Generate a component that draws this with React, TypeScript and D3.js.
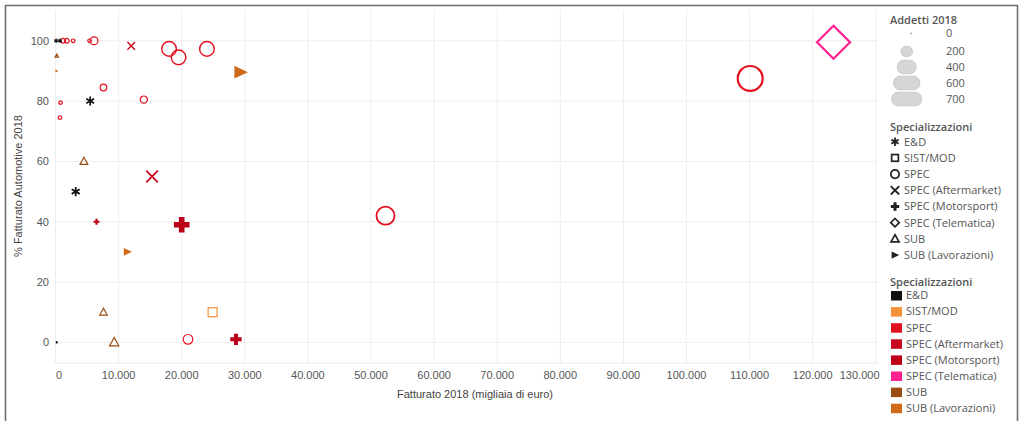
import React from "react";
import * as d3 from "d3";

// ---------- DATA ----------
const categories = [
  "E&D",
  "SIST/MOD",
  "SPEC",
  "SPEC (Aftermarket)",
  "SPEC (Motorsport)",
  "SPEC (Telematica)",
  "SUB",
  "SUB (Lavorazioni)",
];
const categoryColors = [
  "#111111",
  "#f5913a",
  "#e3101f",
  "#c8081d",
  "#bb0219",
  "#ff1f8e",
  "#9a4c12",
  "#cf6a1a",
];
const categoryShapes = ["asterisk", "square", "circle", "x", "plus", "diamond", "triangle", "play"];

// Fatturato 2018 (migliaia di euro)
const fatturato = [
  100, 700, 1200, 1800, 2800, 5400, 6100, 12000, 18000, 19500, 24000, 29300, 200, 200,
  7600, 14000, 800, 700, 5500, 4500, 15300, 3200, 6500, 20000, 11400, 7600, 9300,
  24900, 21000, 28600, 200, 52300, 110100, 123300,
];
// % Fatturato Automotive 2018
const percAutomotive = [
  100, 100, 100, 100, 100, 100, 100, 98.3, 97.3, 94.5, 97.3, 89.6, 95, 90,
  84.5, 80.5, 79.5, 74.5, 80, 60, 55, 50, 40, 39, 30, 10, 0,
  10, 1, 1, 0, 42, 87.5, 99.5,
];
// Addetti 2018
const addetti = [
  12, 12, 14, 14, 8, 8, 40, 37, 137, 137, 137, 145, 8, 8,
  28, 33, 8, 8, 52, 44, 87, 55, 23, 157, 52, 41, 60,
  81, 60, 83, 3, 210, 400, 700,
];
// Specializzazione (index into categories)
const specializzazione = [
  0, 0, 2, 2, 2, 2, 2, 3, 2, 2, 2, 7, 6, 7,
  2, 2, 2, 2, 0, 6, 3, 0, 4, 4, 7, 6, 6,
  1, 2, 4, 0, 2, 2, 5,
];

const xTicks = [0, 10000, 20000, 30000, 40000, 50000, 60000, 70000, 80000, 90000, 100000, 110000, 120000, 130000];
const yTicks = [0, 20, 40, 60, 80, 100];
const sizeLegendValues = [0, 200, 400, 600, 700];

// ---------- LAYOUT ----------
const W = 1020;
const H = 421;
const plot = { left: 55.5, right: 878, top: 10, bottom: 363 };

const x = d3.scaleLinear().domain([0, 130350]).range([plot.left, plot.right]);
const y = d3.scaleLinear().domain([-6.85, 110.2]).range([plot.bottom, plot.top]);
const size = d3.scaleSqrt().domain([0, 700]).range([0, 16.5]);

const fmt = (v: number) => d3.format(",")(v).replace(/,/g, ".");

function Mark({ shape, h, color, legend }: { shape: string; h: number; color: string; legend?: boolean }) {
  const sw = legend ? 1.7 : Math.max(1.2, Math.min(2.2, h * 0.2));
  switch (shape) {
    case "circle":
      return <circle r={h} fill="none" stroke={color} strokeWidth={sw} />;
    case "square":
      return <rect x={-h * 0.8} y={-h * 0.8} width={h * 1.6} height={h * 1.6} fill="none" stroke={color} strokeWidth={sw} />;
    case "diamond":
      return <path d={`M0,${-h}L${h},0L0,${h}L${-h},0Z`} fill="none" stroke={color} strokeWidth={sw} />;
    case "x":
      return (
        <path
          d={`M${-h},${-h}L${h},${h}M${-h},${h}L${h},${-h}`}
          fill="none"
          stroke={color}
          strokeWidth={legend ? 1.8 : Math.max(1.4, h * 0.3)}
        />
      );
    case "plus": {
      const t = h * 0.36;
      return (
        <path
          d={`M${-t},${-h}H${t}V${-t}H${h}V${t}H${t}V${h}H${-t}V${t}H${-h}V${-t}H${-t}Z`}
          fill={color}
        />
      );
    }
    case "triangle":
      return (
        <path
          d={`M0,${-h}L${h * 0.95},${h * 0.72}L${-h * 0.95},${h * 0.72}Z`}
          fill="none"
          stroke={color}
          strokeWidth={sw}
          strokeLinejoin="miter"
        />
      );
    case "play":
      return <path d={`M${-h * 0.8},${-h * 0.85}L${h},0L${-h * 0.8},${h * 0.85}Z`} fill={color} />;
    case "asterisk": {
      const a = h;
      const c = Math.cos(Math.PI / 6) * a;
      const s = Math.sin(Math.PI / 6) * a;
      return (
        <path
          d={`M0,${-a}L0,${a}M${-c},${-s}L${c},${s}M${-c},${s}L${c},${-s}`}
          fill="none"
          stroke={color}
          strokeWidth={legend ? 1.8 : Math.max(1.2, h * 0.38)}
        />
      );
    }
  }
  return null;
}

export default function App() {
  const points = fatturato.map((f, i) => ({
    f,
    p: percAutomotive[i],
    a: addetti[i],
    c: specializzazione[i],
  }));
  const order = d3.range(points.length).sort((i, j) => points[j].a - points[i].a);

  const tickFont = "'Liberation Sans', Arial, sans-serif";
  const legendFont = "'Open Sans', 'Noto Sans', sans-serif";
  const textColor = "#555";

  return (
    <svg width={W} height={H} style={{ position: "absolute", left: 0, top: 0, background: "#fff" }}>
      {/* frame */}
      <path d={`M5.5,${H + 2}V5.5H1017.5V${H + 2}`} fill="none" stroke="#6e6e6e" strokeWidth={1.6} />

      {/* gridlines */}
      {xTicks.map((t) => (
        <line key={"gx" + t} x1={x(t)} x2={x(t)} y1={plot.top} y2={plot.bottom} stroke="#eeeeee" strokeWidth={1} />
      ))}
      {yTicks.map((t) => (
        <line
          key={"gy" + t}
          x1={plot.left}
          x2={plot.right}
          y1={y(t)}
          y2={y(t)}
          stroke={t === 0 ? "#e2e2e2" : "#eeeeee"}
          strokeWidth={1}
          strokeDasharray={t === 0 ? "2,2" : undefined}
        />
      ))}
      <line x1={plot.left} x2={plot.right} y1={plot.bottom} y2={plot.bottom} stroke="#eaeaea" strokeWidth={1} />

      {/* y tick labels */}
      {yTicks.map((t) => (
        <text
          key={"ty" + t}
          x={49}
          y={y(t)}
          dy="0.35em"
          textAnchor="end"
          fontFamily={tickFont}
          fontSize={11}
          fill={textColor}
        >
          {t}
        </text>
      ))}
      {/* x tick labels */}
      {xTicks.map((t, i) => {
        const last = i === xTicks.length - 1;
        return (
          <text
            key={"tx" + t}
            x={last ? 879.5 : t === 0 ? x(t) + 3.5 : x(t)}
            y={379}
            textAnchor={last ? "end" : "middle"}
            fontFamily={tickFont}
            fontSize={11}
            fill={textColor}
          >
            {fmt(t)}
          </text>
        );
      })}
      {/* axis titles */}
      <text x={475} y={398} textAnchor="middle" fontFamily={tickFont} fontSize={11} fill="#444">
        Fatturato 2018 (migliaia di euro)
      </text>
      <text
        transform={`translate(22,186) rotate(-90)`}
        textAnchor="middle"
        fontFamily={tickFont}
        fontSize={11}
        fill="#444"
      >
        % Fatturato Automotive 2018
      </text>

      {/* marks */}
      <g>
        {order.map((i) => {
          const d = points[i];
          return (
            <g key={"m" + i} transform={`translate(${x(d.f)},${y(d.p)})`}>
              <Mark shape={categoryShapes[d.c]} h={Math.max(1.1, size(d.a))} color={categoryColors[d.c]} />
            </g>
          );
        })}
      </g>

      {/* size legend */}
      <text x={890} y={24} fontFamily={legendFont} fontSize={11} fontWeight={600} fill={textColor}>
        Addetti 2018
      </text>
      {sizeLegendValues.map((v, i) => {
        const cy = [33.5, 51.5, 67, 83, 99][i];
        const w = v === 0 ? 2 : 4 + v * 0.037;
        const hh = v === 0 ? 2 : Math.min(w * 0.87, 13.5);
        return (
          <g key={"sl" + v}>
            <rect
              x={v === 0 ? 910 : 906.7 - w / 2}
              y={cy - hh / 2}
              width={w}
              height={hh}
              rx={v === 0 ? 1 : hh / 2.2}
              fill={v === 0 ? "#aaa" : "#d6d6d6"}
              stroke={v === 0 ? "none" : "#c4c4c4"}
              strokeWidth={0.8}
            />
            <text x={946} y={cy} dy="0.35em" fontFamily={legendFont} fontSize={11} fill={textColor}>
              {v}
            </text>
          </g>
        );
      })}

      {/* shape legend */}
      <text x={890} y={130.5} fontFamily={legendFont} fontSize={11} fontWeight={600} fill={textColor}>
        Specializzazioni
      </text>
      {categories.map((c, i) => {
        const cy = 141.7 + i * 16.2;
        return (
          <g key={"sh" + c}>
            <g transform={`translate(895,${cy})`}>
              <Mark shape={categoryShapes[i]} h={4.2} color="#222" legend />
            </g>
            <text x={904} y={cy} dy="0.35em" fontFamily={legendFont} fontSize={11} fill={textColor}>
              {c}
            </text>
          </g>
        );
      })}

      {/* color legend */}
      <text x={890} y={285.5} fontFamily={legendFont} fontSize={11} fontWeight={600} fill={textColor}>
        Specializzazioni
      </text>
      {categories.map((c, i) => {
        const cy = 295.5 + i * 16.1;
        return (
          <g key={"co" + c}>
            <rect x={891} y={cy - 4.5} width={11} height={9.5} fill={categoryColors[i]} />
            <text x={906} y={cy} dy="0.35em" fontFamily={legendFont} fontSize={11} fill={textColor}>
              {c}
            </text>
          </g>
        );
      })}
    </svg>
  );
}
